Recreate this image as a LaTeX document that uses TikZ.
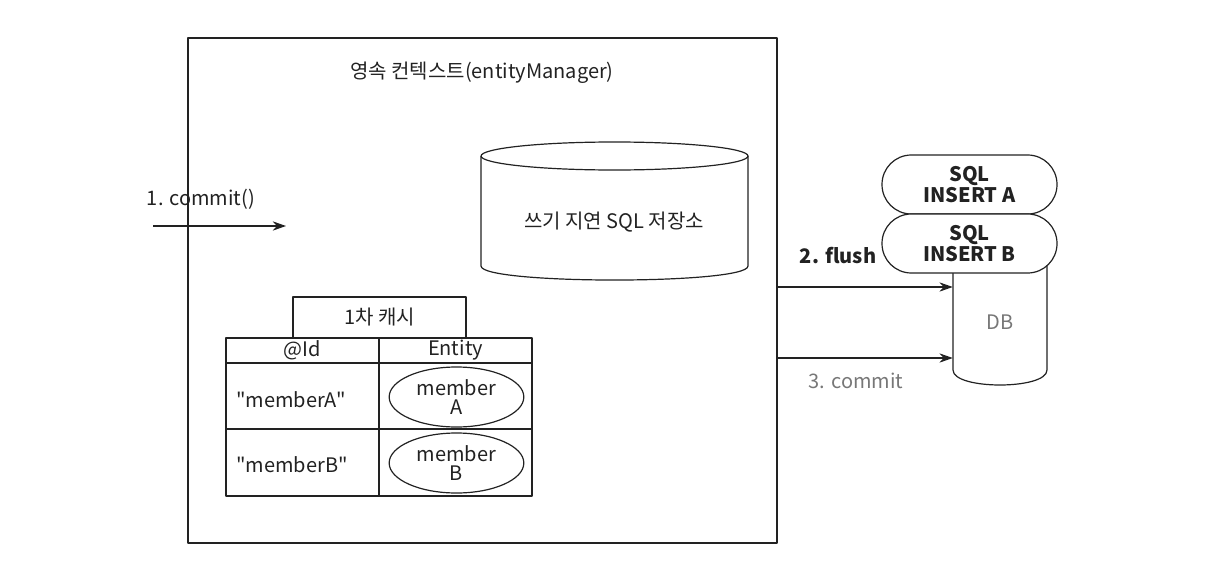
\documentclass[tikz,border=0pt]{standalone}
\usepackage{fontspec}
\setmainfont{Noto Sans CJK KR}
\usetikzlibrary{arrows.meta,shapes.geometric}
\definecolor{ink}{HTML}{222222}
\definecolor{soft}{HTML}{777777}
\newcommand{\dq}{\XeTeXglyph\the\XeTeXcharglyph"22\relax}
\begin{document}
\begin{tikzpicture}[x=0.75pt,y=-0.75pt,line join=round,
  ln/.style={draw=ink,line width=0.9pt},
  arr/.style={draw=ink,line width=0.9pt,-{Stealth[length=10pt,width=7pt]}},
  txt/.style={font=\fontsize{15}{17}\selectfont,text=ink,inner sep=0pt},
  boldtxt/.style={font=\fontsize{15}{16}\selectfont\bfseries,text=ink,inner sep=0pt,align=center},
  graytxt/.style={font=\fontsize{15}{17}\selectfont,text=soft,inner sep=0pt},
  cell/.style={ln,minimum width=114.75pt,inner sep=0pt},
  stadium/.style={ln,fill=white,rounded corners=22pt,minimum width=131.25pt,minimum height=44.25pt,inner sep=0pt},
  member/.style={ellipse,ln,minimum width=101pt,minimum height=45pt,inner sep=0pt,align=center,
    font=\fontsize{15}{15}\selectfont,text=ink}]
\useasboundingbox (0,0) rectangle (1216,564);

% main persistence-context box
\node[draw=ink,line width=1.3pt,minimum width=441.75pt,minimum height=378.75pt,inner sep=0pt] (main) at (482.5,290.5) {};
\node[txt] (title) at (482,73) {영속 컨텍스트(entityManager)};

% write-behind SQL store (cylinder)
\draw[ln] (481,156) -- (481,266) .. controls (481,284.7) and (748,284.7) .. (748,266) -- (748,156);
\draw[ln] (614.5,156) ellipse [x radius=100.1pt,y radius=10.5pt];
\node[txt] (store) at (614,222) {쓰기 지연 SQL 저장소};

% 1. commit()
\node[txt] (c1) at (201,199) {1. commit()};
\coordinate (c1s) at (153,226);
\coordinate (c1e) at (286,226);
\draw[arr] (c1s) -- (c1e);

% first-level cache
\node[ln,minimum width=129.75pt,minimum height=30.75pt,inner sep=0pt,txt] (cache) at (379.5,317.5) {1차 캐시};
\node[cell,minimum height=18.75pt,txt] (hid) at (302.5,350.5) {@Id};
\node[cell,minimum height=18.75pt,txt] (hent) at (455.5,350.5) {Entity};
\node[cell,minimum height=49.5pt] (r1a) at (302.5,396) {};
\node[cell,minimum height=49.5pt] (r1b) at (455.5,396) {};
\node[cell,minimum height=50.25pt] (r2a) at (302.5,462.5) {};
\node[cell,minimum height=50.25pt] (r2b) at (455.5,462.5) {};
\node[txt,anchor=west] (ka) at (236,400) {\dq memberA\dq};
\node[txt,anchor=west] (kb) at (236,465) {\dq memberB\dq};
\node[member] (ma) at (456.5,397) {member\\[-1pt]A};
\node[member] (mb) at (456.5,463) {member\\[-1pt]B};

% DB cylinder (top hidden by the SQL stack)
\draw[ln,fill=white] (953,250) -- (953,370) .. controls (953,390) and (1047,390) .. (1047,370) -- (1047,250);
\node[graytxt,minimum width=70.5pt] (db) at (1000,322) {DB};

% SQL stack
\node[stadium,boldtxt] (sqla) at (969.5,184.5) {SQL\\INSERT A};
\node[stadium,boldtxt] (sqlb) at (969.5,243.5) {SQL\\INSERT B};

% 2. flush / 3. commit
\coordinate (f0) at (777,287);
\coordinate (k0) at (777,358);
\draw[arr] (f0) -- (f0 -| db.west);
\draw[arr] (k0) -- (k0 -| db.west);
\node[boldtxt] (flush) at (838,256) {2. flush};
\node[graytxt] (commit3) at (856,381) {3. commit};
\end{tikzpicture}
\end{document}
